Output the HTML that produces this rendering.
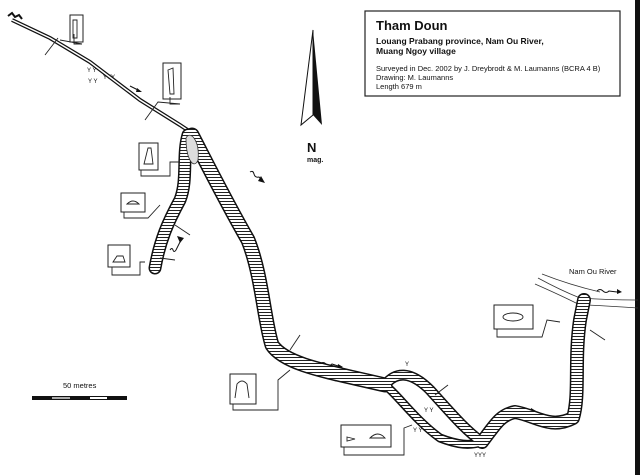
<!DOCTYPE html>
<html><head><meta charset="utf-8"><style>
html,body{margin:0;padding:0;background:#fff}
svg{display:block}
text{font-family:"Liberation Sans",Arial,sans-serif;fill:#111}
</style></head><body>
<svg width="640" height="475" viewBox="0 0 640 475" xmlns="http://www.w3.org/2000/svg">
<defs>
<pattern id="h" width="6" height="3" patternUnits="userSpaceOnUse"><rect width="6" height="3" fill="#fff"/><line x1="0" y1="0.5" x2="6" y2="0.5" stroke="#222" stroke-width="1"/></pattern>
</defs>
<rect width="640" height="475" fill="#fff"/>
<rect x="635" y="0" width="5" height="475" fill="#111"/>
<rect x="365" y="11" width="255" height="85" fill="#fff" stroke="#222" stroke-width="1.2"/>
<text x="376" y="30" font-size="13" font-weight="bold">Tham Doun</text>
<text x="376" y="44" font-size="8.5" font-weight="bold">Louang Prabang province, Nam Ou River,</text>
<text x="376" y="54" font-size="8.5" font-weight="bold">Muang Ngoy village</text>
<text x="376" y="71" font-size="7.5">Surveyed in Dec. 2002 by J. Dreybrodt &amp; M. Laumanns (BCRA 4 B)</text>
<text x="376" y="80" font-size="7.5">Drawing: M. Laumanns</text>
<text x="376" y="89" font-size="7.5">Length 679 m</text>
<polygon points="313,30 301,125 313,115" fill="#fff" stroke="#111" stroke-width="1"/>
<polygon points="313,30 322,125 313,115" fill="#111"/>
<text x="307" y="152" font-size="13" font-weight="bold">N</text>
<text x="307" y="162" font-size="7" font-weight="bold">mag.</text>
<rect x="32" y="396" width="95" height="4" fill="#111"/>
<rect x="52" y="397" width="18" height="2" fill="#aaa"/>
<rect x="90" y="397" width="17" height="2" fill="#fff"/>
<text x="63" y="388" font-size="7.5">50 metres</text>
<g stroke="#333" fill="none" stroke-width="0.8">
<path d="M538,278 Q560,290 580,298 Q610,300 638,300"/>
<path d="M535,284 Q560,295 578,304"/>
<path d="M542,274 Q570,285 600,292"/>
<path d="M586,305 Q610,306 638,308"/>
</g>
<text x="569" y="274" font-size="7.5">Nam Ou River</text>
<g stroke="#111" fill="none" stroke-width="1">
<path d="M597,291 q3,-3 6,0 q3,3 6,0 l8,1"/>
<path d="M320,364 q3,-3 6,0 q3,3 6,0 l6,2"/>
<path d="M513,408 q3,-3 6,0 q3,3 6,0 l6,2"/>
<path d="M250,172 q3,-2 4,2 q1,4 5,3 l3,3"/>
<path d="M170,250 q2,-3 3,0 q1,3 3,0 l4,-8"/>
<path d="M130,86 l8,4"/>
</g>
<g fill="#111">
<polygon points="617,289 622,292 617,294"/>
<polygon points="338,364 343,367 337,369"/>
<polygon points="531,408 536,411 530,413"/>
<polygon points="261,176 265,183 258,181"/>
<polygon points="180,243 177,236 184,238"/>
<polygon points="137,88 142,92 136,92"/>
</g>
<g font-size="6" fill="#111"><text x="87" y="72">Y Y</text><text x="103" y="79">YYY</text><text x="88" y="83">Y Y</text>
<text x="405" y="366">Y</text><text x="424" y="412">Y Y</text><text x="413" y="432">Y Y</text><text x="474" y="457">YYY</text><text x="333" y="373">Y</text></g>
<path d="M12,20 L50,38 L90,62 L140,100 L180,125 L192,133" stroke="#111" stroke-width="4" fill="none"/>
<path d="M12,20 L50,38 L90,62 L140,100 L180,125 L192,133" stroke="#fff" stroke-width="1.5" fill="none"/>
<path d="M8,16 l4,-3 l3,4 l4,-2 l3,4" stroke="#111" stroke-width="2" fill="none"/>
<g fill="none" stroke-linecap="round" stroke-linejoin="round">
<path id="L" d="M188,135 C182,155 188,180 180,200 C168,222 160,240 155,268"/>
<path id="R" d="M192,135 C205,160 225,200 248,240 C262,275 264,320 272,345 C285,365 330,372 385,385"/>
<path id="U" d="M385,385 C395,372 410,370 430,390 C450,412 465,430 482,442"/>
<path id="D" d="M385,385 C398,395 415,420 440,438 C458,445 470,446 482,442"/>
<path id="W" d="M482,442 C495,425 500,415 515,412 C535,415 550,430 573,418 C580,395 574,360 580,320 L584,300"/>
</g>
<g fill="none" stroke="#111" stroke-linecap="round" stroke-linejoin="round">
<use href="#L" stroke-width="13"/><use href="#R" stroke-width="15"/><use href="#U" stroke-width="11"/><use href="#D" stroke-width="9"/><use href="#W" stroke-width="14"/>
</g>
<g fill="none" stroke="url(#h)" stroke-linecap="round" stroke-linejoin="round">
<use href="#L" stroke-width="10"/><use href="#R" stroke-width="12"/><use href="#U" stroke-width="8"/><use href="#D" stroke-width="6"/><use href="#W" stroke-width="11"/>
</g>
<path d="M186,138 C190,130 200,140 198,160 C194,170 186,160 186,138Z" fill="#ddd" stroke="#333" stroke-width="0.8"/>
<g fill="#fff" stroke="#222" stroke-width="1">
<rect x="70" y="15" width="13" height="27"/><rect x="163" y="63" width="18" height="36"/>
<rect x="139" y="143" width="19" height="27"/><rect x="121" y="193" width="24" height="19"/>
<rect x="108" y="245" width="22" height="22"/><rect x="230" y="374" width="26" height="30"/>
<rect x="341" y="425" width="50" height="22"/><rect x="494" y="305" width="39" height="24"/>
</g>
<g fill="none" stroke="#222" stroke-width="0.9">
<path d="M74,34 L74,44 L82,44 L60,40"/><path d="M58,38 L45,55"/>
<path d="M170,97 L170,104 L180,104 L158,102 L145,120"/>
<path d="M141,170 L141,176 L170,176 L170,162 L180,162"/>
<path d="M124,212 L124,218 L148,218 L160,205"/><path d="M175,225 L190,235"/>
<path d="M112,267 L112,275 L140,275 L140,262 L145,262"/><path d="M160,258 L175,260"/>
<path d="M233,404 L233,410 L278,410 L278,380 L290,370"/><path d="M290,350 L300,335"/>
<path d="M344,447 L344,455 L404,455 L404,428 L412,425"/><path d="M435,395 L448,385"/>
<path d="M497,329 L497,337 L542,337 L547,320 L560,322"/><path d="M590,330 L605,340"/>
<path d="M73,20 l4,0 l0,18 l-4,0z"/><path d="M168,70 l5,-2 l1,26 l-4,0z"/>
<path d="M144,164 l4,-16 l3,0 l2,16z"/><path d="M127,204 q6,-6 12,0z"/>
<path d="M113,262 l4,-6 l6,0 l2,6z"/><path d="M235,398 l2,-14 q5,-6 10,0 l2,14"/>
<path d="M347,437 l8,2 l-8,2z"/><path d="M370,438 q8,-8 15,0z"/>
<ellipse cx="513" cy="317" rx="10" ry="4"/>
</g>
</svg>
</body></html>
